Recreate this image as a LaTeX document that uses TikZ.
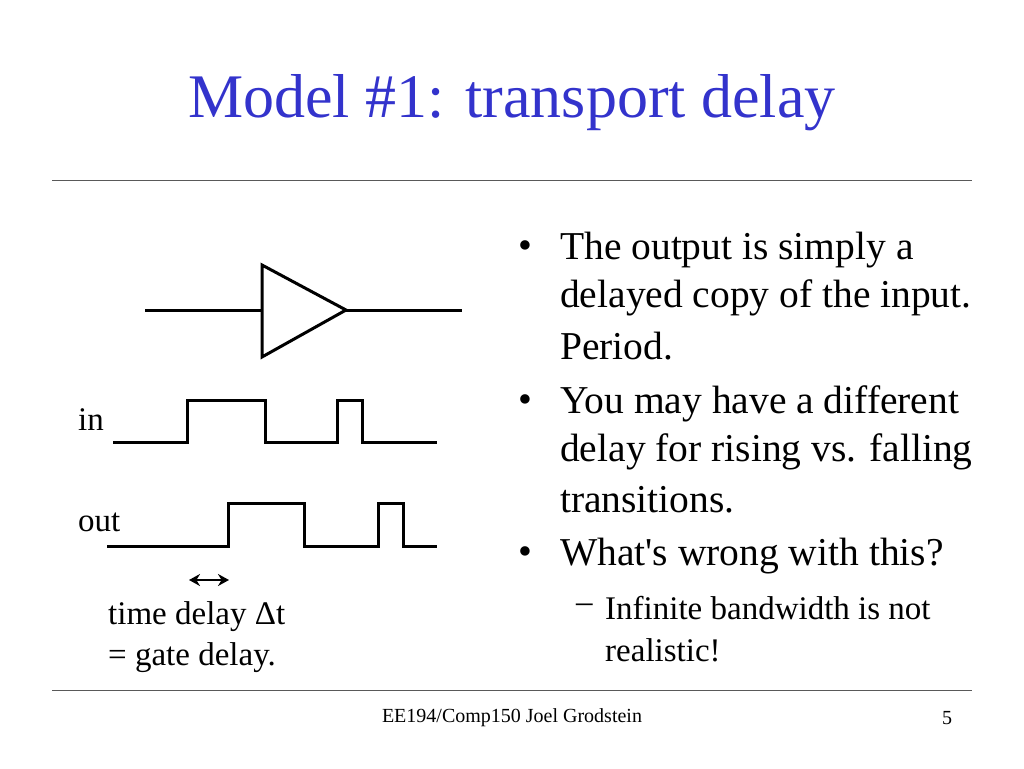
\documentclass[tikz,border=0pt]{standalone}
\usepackage{fontspec}
\setmainfont{Liberation Serif}
\usetikzlibrary{arrows.meta}
\definecolor{titleblue}{RGB}{51,51,204}
\begin{document}
\begin{tikzpicture}[x=1pt,y=-1pt,
  wire/.style={line width=3pt},
  body/.style={font=\fontsize{39.5}{44}\selectfont,anchor=west,inner sep=0pt},
  small/.style={font=\fontsize{33}{36}\selectfont,anchor=west,inner sep=0pt},
  sub/.style={font=\fontsize{33}{36}\selectfont,anchor=west,inner sep=0pt}]
\useasboundingbox (0,0) rectangle (1024,768);
\node[font=\fontsize{62}{66}\selectfont,text=titleblue] (title) at (512,103) {Model \#1: transport delay};
\draw[line width=1pt,gray!70!black] (52,180) -- (972,180);
\draw[line width=1pt,gray!70!black] (52,690) -- (972,690);
% buffer
\coordinate (bi) at (145,310); \coordinate (bo) at (462,310);
\draw[wire] (262,265) -- (346,310) -- (262,357) -- cycle;
\draw[wire] (bi) -- (262,310);
\draw[wire] (346,310) -- (bo);
% waveforms
\draw[wire] (113,442) -- (187,442) -- (187,400) -- (265,400) -- (265,442) -- (337,442) -- (337,400) -- (362,400) -- (362,442) -- (437,442);
\draw[wire] (107,546) -- (228,546) -- (228,503) -- (304,503) -- (304,546) -- (378,546) -- (378,503) -- (403,503) -- (403,546) -- (437,546);
\coordinate (da) at (189,580); \coordinate (db) at (229,580);
\draw[line width=2.5pt,{Stealth[length=11pt,width=12pt]}-{Stealth[length=11pt,width=12pt]}] (da) -- (db);
\node[small] (in) at (78,420) {in};
\node[small] (out) at (78,522) {out};
\node[small] (td1) at (108,617) {time delay Δt};
\node[small] (td2) at (108,658) {= gate delay.};
% bullets
\foreach \y in {250,404,556} \node[body] at (518,\y) {•};
\node[body] (l1) at (560,250) {The output is simply a};
\node[body] (l2) at (560,298) {delayed copy of the input.};
\node[body] (l3) at (560,346) {Period.};
\node[body] (l4) at (560,404) {You may have a different};
\node[body] (l5) at (560,452) {delay for rising vs. falling};
\node[body] (l6) at (560,500) {transitions.};
\node[body] (l7) at (560,556) {What\textquotesingle s wrong with this?};
\node[sub] (s0) at (576,608) {–};
\node[sub] (s1) at (605,608) {Infinite bandwidth is not};
\node[sub] (s2) at (605,650) {realistic!};
\node[font=\fontsize{20}{24}\selectfont] (foot) at (512,718) {EE194/Comp150 Joel Grodstein};
\node[font=\fontsize{20}{24}\selectfont] (pg) at (947,718) {5};
\end{tikzpicture}
\end{document}
